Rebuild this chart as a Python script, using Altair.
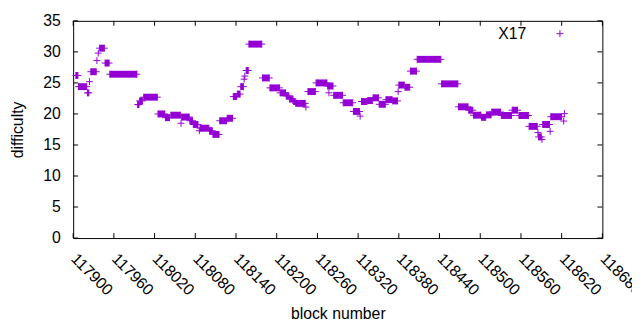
import altair as alt
import pandas as pd

# ---- data (runs of consecutive blocks with equal difficulty) ----
run_start = [117904, 117908, 117921, 117924, 117926, 117935, 117937, 117939, 117947, 117954,
             117995, 117998, 118004, 118025, 118036, 118044, 118059, 118060, 118072, 118077,
             118086, 118087, 118101, 118106, 118116, 118127, 118136, 118142, 118147, 118152,
             118153, 118155, 118159, 118179, 118190, 118205, 118214, 118219, 118225, 118228,
             118243, 118246, 118258, 118275, 118277, 118284, 118298, 118313, 118323, 118325,
             118334, 118342, 118351, 118361, 118371, 118379, 118380, 118389, 118397, 118407,
             118443, 118468, 118483, 118490, 118502, 118509, 118517, 118531, 118547, 118557,
             118572, 118585, 118586, 118591, 118592, 118603, 118604, 118623, 118624]
run_end = [117907, 117920, 117923, 117924, 117934, 117935, 117937, 117946, 117953, 117994,
           117997, 118002, 118024, 118035, 118042, 118058, 118059, 118071, 118076, 118084,
           118086, 118100, 118105, 118115, 118126, 118135, 118141, 118146, 118151, 118152,
           118153, 118158, 118178, 118189, 118204, 118213, 118218, 118224, 118227, 118242,
           118243, 118257, 118274, 118283, 118277, 118297, 118312, 118322, 118323, 118333,
           118341, 118350, 118360, 118370, 118378, 118379, 118388, 118396, 118406, 118442,
           118467, 118482, 118489, 118501, 118508, 118516, 118530, 118546, 118555, 118571,
           118584, 118585, 118590, 118591, 118602, 118603, 118620, 118623, 118624]
run_diff = [26.2, 24.4, 23.4, 25.2, 26.8, 28.6, 29.8, 30.6, 28.2, 26.4,
            21.5, 22.1, 22.7, 20.0, 19.4, 19.8, 18.5, 19.5, 18.9, 18.3,
            17.3, 17.7, 17.3, 16.7, 18.9, 19.3, 22.8, 23.2, 24.4, 25.6,
            26.1, 27.0, 31.25, 25.8, 24.2, 23.4, 22.9, 22.4, 22.0, 21.7,
            21.1, 23.6, 25.0, 24.5, 23.4, 23.0, 21.8, 20.4, 19.65, 22.0,
            22.15, 22.6, 21.55, 22.3, 22.1, 23.6, 24.65, 24.3, 26.9, 28.8,
            24.85, 21.15, 20.6, 19.8, 19.45, 19.85, 20.3, 19.75, 20.6, 19.75,
            18.0, 17.0, 16.3, 15.9, 18.3, 17.2, 19.55, 18.85, 20.05]

x_ticks = [117900, 117960, 118020, 118080, 118140, 118200, 118260, 118320,
           118380, 118440, 118500, 118560, 118620, 118680]
y_ticks = [0, 5, 10, 15, 20, 25, 30, 35]
series_name = ["X17"]

W, H = 536, 220
COLOR = "#9400d3"
FONT = "Liberation Sans"
FS = 16
CROSS = "M-1,0L1,0M0,-1L0,1"
TICK = 5

runs = pd.DataFrame({"start": run_start, "end": run_end, "diff": run_diff})
ends = pd.concat([
    runs[["start", "diff"]].rename(columns={"start": "block"}),
    runs[["end", "diff"]].rename(columns={"end": "block"}),
]).drop_duplicates()
xt = pd.DataFrame({"v": x_ticks})
yt = pd.DataFrame({"v": y_ticks})
leg = pd.DataFrame({"label": series_name})

xs = alt.Scale(domain=[x_ticks[0], x_ticks[-1]], nice=False, zero=False)
ys = alt.Scale(domain=[y_ticks[0], y_ticks[-1]], nice=False)

x_axis = alt.Axis(values=x_ticks, format="d", labelAngle=45, labelAlign="left",
                  labelBaseline="middle", tickSize=0, domain=False, grid=False,
                  labelPadding=18, labelOffset=0, labelFont=FONT, labelFontSize=FS,
                  labelColor="black", labelOverlap=False, labelFlush=False,
                  title="block number", titleFont=FONT, titleFontSize=FS,
                  titleFontWeight="normal", titleColor="black", titlePadding=8)
y_axis = alt.Axis(values=y_ticks, format="d", tickSize=0, domain=False, grid=False,
                  labelPadding=13, labelFont=FONT, labelFontSize=FS, labelColor="black",
                  title="difficulty", titleFont=FONT, titleFontSize=FS,
                  titleFontWeight="normal", titleColor="black", titlePadding=18)

bands = alt.Chart(runs).mark_rule(strokeWidth=7, color=COLOR, strokeCap="butt").encode(
    x=alt.X("start:Q", scale=xs, axis=x_axis),
    x2="end:Q",
    y=alt.Y("diff:Q", scale=ys, axis=y_axis),
)
crosses = alt.Chart(ends).mark_point(shape=CROSS, size=49, strokeWidth=1, color=COLOR,
                                     filled=False, opacity=1).encode(
    x=alt.X("block:Q", scale=xs, axis=x_axis),
    y=alt.Y("diff:Q", scale=ys, axis=y_axis),
)

xt_bot = alt.Chart(xt).mark_rule(color="black", strokeWidth=1).encode(
    x=alt.X("v:Q", scale=xs, axis=x_axis), y=alt.value(H), y2=alt.value(H - TICK))
xt_top = alt.Chart(xt).mark_rule(color="black", strokeWidth=1).encode(
    x=alt.X("v:Q", scale=xs, axis=x_axis), y=alt.value(0), y2=alt.value(TICK))
yt_left = alt.Chart(yt).mark_rule(color="black", strokeWidth=1).encode(
    y=alt.Y("v:Q", scale=ys, axis=y_axis), x=alt.value(0), x2=alt.value(TICK))
yt_right = alt.Chart(yt).mark_rule(color="black", strokeWidth=1).encode(
    y=alt.Y("v:Q", scale=ys, axis=y_axis), x=alt.value(W), x2=alt.value(W - TICK))

leg_text = alt.Chart(leg).mark_text(align="right", baseline="middle", font=FONT,
                                    fontSize=FS, color="black").encode(
    text="label:N", x=alt.value(459), y=alt.value(13))
leg_sym = alt.Chart(leg).mark_point(shape=CROSS, size=49, strokeWidth=1, color=COLOR,
                                    filled=False, opacity=1).encode(
    x=alt.value(493), y=alt.value(13))

chart = alt.layer(bands, crosses, xt_bot, xt_top, yt_left, yt_right, leg_text, leg_sym).properties(
    width=W, height=H,
    padding={"left": 66, "top": 11, "right": 30, "bottom": 83},
    autosize=alt.AutoSizeParams(type="none"),
    background="white",
).configure_view(stroke="black", strokeWidth=1)

chart.save("out.html", embed_options={"renderer": "svg", "actions": False})
